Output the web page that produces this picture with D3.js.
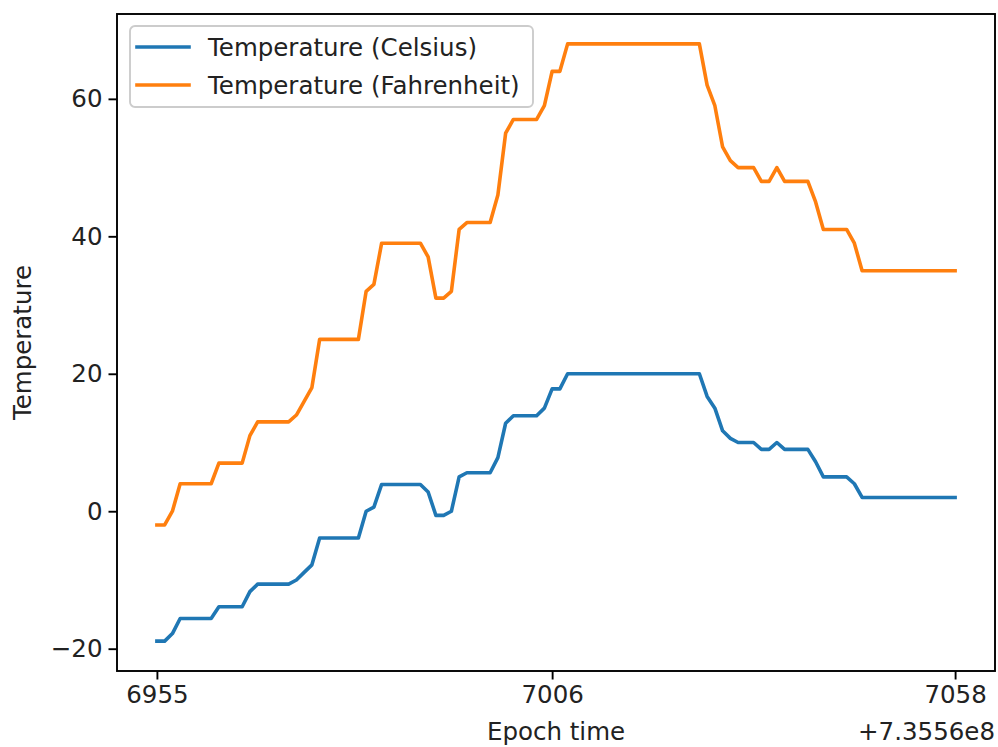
<!DOCTYPE html>
<html>
<head>
<meta charset="utf-8">
<script src="https://cdn.jsdelivr.net/npm/d3@7"></script>
<style>
  html, body { margin: 0; padding: 0; background: #fff; }
  svg { display: block; font-family: "DejaVu Sans", sans-serif; }
</style>
</head>
<body>
<svg id="chart"></svg>
<script>
// epoch seconds, shown relative to the offset like matplotlib does
const epochOffset = 735560000;
const seconds = d3.range(6955, 7059);

const fahrenheit = [
  -2, -2, 0, 4, 4, 4, 4, 4, 7, 7, 7, 7, 11, 13, 13, 13, 13, 13, 14, 16,
  18, 25, 25, 25, 25, 25, 25, 32, 33, 39, 39, 39, 39, 39, 39, 37, 31, 31, 32, 41,
  42, 42, 42, 42, 46, 55, 57, 57, 57, 57, 59, 64, 64, 68, 68, 68, 68, 68, 68, 68,
  68, 68, 68, 68, 68, 68, 68, 68, 68, 68, 68, 62, 59, 53, 51, 50, 50, 50, 48, 48,
  50, 48, 48, 48, 48, 45, 41, 41, 41, 41, 39, 35, 35, 35, 35, 35, 35, 35, 35, 35,
  35, 35, 35, 35
];

const celsius = [
  -18.9, -18.9, -17.8, -15.6, -15.6, -15.6, -15.6, -15.6, -13.9, -13.9, -13.9, -13.9, -11.7, -10.6, -10.6, -10.6, -10.6, -10.6, -10.0, -8.9,
  -7.8, -3.9, -3.9, -3.9, -3.9, -3.9, -3.9, 0.0, 0.6, 3.9, 3.9, 3.9, 3.9, 3.9, 3.9, 2.8, -0.6, -0.6, 0.0, 5.0,
  5.6, 5.6, 5.6, 5.6, 7.8, 12.8, 13.9, 13.9, 13.9, 13.9, 15.0, 17.8, 17.8, 20.0, 20.0, 20.0, 20.0, 20.0, 20.0, 20.0,
  20.0, 20.0, 20.0, 20.0, 20.0, 20.0, 20.0, 20.0, 20.0, 20.0, 20.0, 16.7, 15.0, 11.7, 10.6, 10.0, 10.0, 10.0, 9.0, 9.0,
  10.0, 9.0, 9.0, 9.0, 9.0, 7.2, 5.0, 5.0, 5.0, 5.0, 4.0, 2.0, 2.0, 2.0, 2.0, 2.0, 2.0, 2.0, 2.0, 2.0,
  2.0, 2.0, 2.0, 2.0
];

const seriesNames = ["Temperature (Celsius)", "Temperature (Fahrenheit)"];
const seriesColors = ["#1f77b4", "#ff7f0e"];
const xTicks = [6955, 7006, 7058];
const yTicks = [-20, 0, 20, 40, 60];

const width = 998;
const height = 747;
const margin = { top: 14, right: 3, bottom: 76, left: 117 };
const fontSize = 24.5;

const svg = d3.select("#chart").attr("width", width).attr("height", height);

// 5% padding like matplotlib autoscale
function padded(ext) {
  const p = (ext[1] - ext[0]) * 0.05;
  return [ext[0] - p, ext[1] + p];
}

const x = d3
  .scaleLinear()
  .domain(padded(d3.extent(seconds)))
  .range([margin.left, width - margin.right]);

const y = d3
  .scaleLinear()
  .domain(padded([d3.min(celsius.concat(fahrenheit)), d3.max(celsius.concat(fahrenheit))]))
  .range([height - margin.bottom, margin.top]);

const series = [celsius, fahrenheit];

const line = d3
  .line()
  .x((d, i) => x(seconds[i]))
  .y((d) => y(d));

svg
  .selectAll("path.series")
  .data(series)
  .enter()
  .append("path")
  .attr("class", "series")
  .attr("d", line)
  .attr("fill", "none")
  .attr("stroke", (d, i) => seriesColors[i])
  .attr("stroke-width", 3.6)
  .attr("stroke-linejoin", "round")
  .attr("stroke-linecap", "square");

// axes
const xAxis = d3
  .axisBottom(x)
  .tickValues(xTicks)
  .tickFormat(d3.format("d"))
  .tickSize(8.5)
  .tickPadding(6)
  .tickSizeOuter(0);

const yAxis = d3
  .axisLeft(y)
  .tickValues(yTicks)
  .tickFormat((d) => (d < 0 ? "\u2212" + Math.abs(d) : d))
  .tickSize(8.5)
  .tickPadding(6)
  .tickSizeOuter(0);

const gx = svg
  .append("g")
  .attr("transform", `translate(0,${height - margin.bottom})`)
  .call(xAxis);

const gy = svg
  .append("g")
  .attr("transform", `translate(${margin.left},0)`)
  .call(yAxis);

[gx, gy].forEach((g) => {
  g.select(".domain").remove();
  g.selectAll(".tick line").attr("stroke", "#000").attr("stroke-width", 1.9);
  g.selectAll(".tick text")
    .attr("fill", "#222")
    .style("font-size", fontSize + "px")
    .style("font-family", "DejaVu Sans");
});

// frame
svg
  .append("rect")
  .attr("x", margin.left)
  .attr("y", margin.top)
  .attr("width", width - margin.left - margin.right)
  .attr("height", height - margin.top - margin.bottom)
  .attr("fill", "none")
  .attr("stroke", "#000")
  .attr("stroke-width", 1.9);

// labels
svg
  .append("text")
  .attr("x", (margin.left + width - margin.right) / 2)
  .attr("y", 740)
  .attr("text-anchor", "middle")
  .attr("fill", "#222")
  .style("font-size", fontSize + "px")
  .text("Epoch time");

svg
  .append("text")
  .attr("x", width - margin.right)
  .attr("y", 740)
  .attr("text-anchor", "end")
  .attr("fill", "#222")
  .style("font-size", fontSize + "px")
  .text("+7.3556e8");

svg
  .append("text")
  .attr("transform", `translate(22,${(margin.top + height - margin.bottom) / 2}) rotate(-90)`)
  .attr("dy", "0.35em")
  .attr("text-anchor", "middle")
  .attr("fill", "#222")
  .style("font-size", fontSize + "px")
  .text("Temperature");

// legend
const legend = svg.append("g").attr("transform", "translate(130,26)");

legend
  .append("rect")
  .attr("width", 403)
  .attr("height", 81)
  .attr("rx", 5)
  .attr("fill", "#fff")
  .attr("fill-opacity", 0.8)
  .attr("stroke", "#cccccc")
  .attr("stroke-width", 1.9);

const items = legend
  .selectAll("g.item")
  .data(seriesNames)
  .enter()
  .append("g")
  .attr("class", "item")
  .attr("transform", (d, i) => `translate(0,${21 + i * 38})`);

items
  .append("line")
  .attr("x1", 7)
  .attr("x2", 59)
  .attr("stroke", (d, i) => seriesColors[i])
  .attr("stroke-width", 3.6)
  .attr("stroke-linecap", "square");

items
  .append("text")
  .attr("x", 78)
  .attr("dy", "0.35em")
  .attr("fill", "#222")
  .style("font-size", fontSize + "px")
  .text((d) => d);
</script>
</body>
</html>
